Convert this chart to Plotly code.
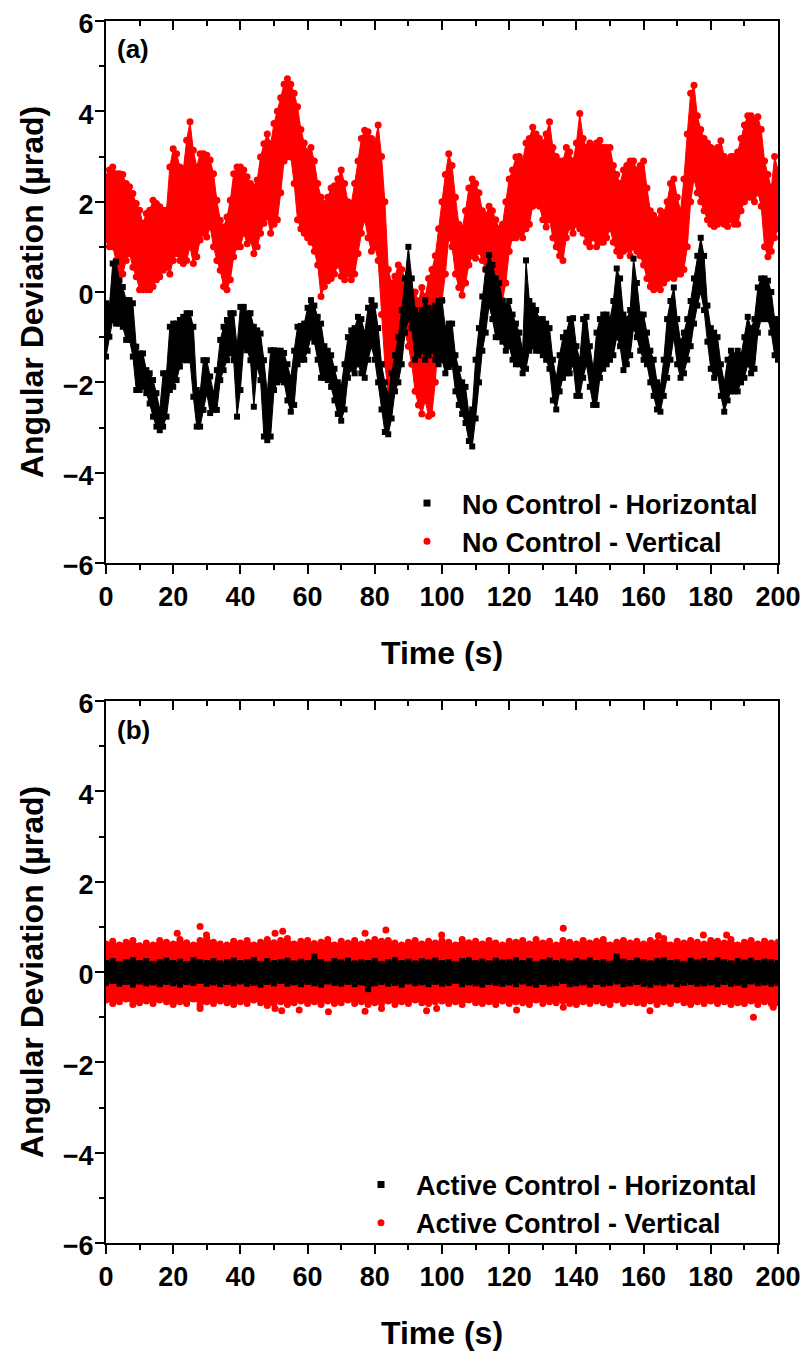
import plotly.graph_objects as go

# ---------------- data ----------------
# Panel (a): No Control, sampled every 1 s, band limits (upper / lower)
time_a = list(range(0, 201))

vert_a_hi = [2.55, 2.7, 2.77, 2.62, 2.62, 2.6, 2.4, 2.33, 2.18, 1.96,
             1.81, 1.52, 1.74, 1.81, 2.03, 1.96, 1.89, 1.81, 1.81, 2.77,
             3.17, 3.06, 2.77, 2.7, 3.36, 3.77, 3.14, 2.77, 3.06, 3.06,
             3.03, 2.92, 2.62, 2.03, 1.59, 1.44, 1.66, 2.03, 2.62, 2.77,
             2.77, 2.7, 2.55, 2.4, 2.33, 2.48, 2.99, 3.28, 3.5, 3.28,
             3.73, 4.0, 4.3, 4.6, 4.72, 4.6, 4.4, 4.1, 3.6, 3.3,
             3.1, 3.2, 2.9, 2.4, 2.1, 1.96, 2.1, 2.3, 2.35, 2.5,
             2.7, 2.4, 2.0, 1.96, 2.4, 2.9, 3.4, 3.58, 3.55, 3.4,
             3.3, 3.7, 3.0, 2.0, 0.5, 0.2, 0.35, 0.6, 0.5, 0.3,
             0.1, 0.0, 0.0, -0.2, 0.1, -0.1, 0.3, 0.5, 0.8, 1.4,
             2.0, 2.6, 3.06, 2.8, 2.1, 1.5, 1.4, 1.8, 2.3, 2.5,
             2.4, 2.2, 1.8, 1.7, 1.9, 1.8, 1.6, 1.4, 1.5, 2.0,
             2.5, 2.7, 2.99, 3.0, 2.9, 3.3, 3.4, 3.65, 3.5, 3.4,
             3.3, 3.5, 3.77, 3.2, 3.0, 2.9, 2.9, 3.2, 3.1, 2.9,
             3.3, 3.95, 3.4, 3.2, 3.3, 3.2, 3.3, 3.36, 3.2, 3.2,
             3.2, 2.8, 2.6, 2.4, 2.7, 2.8, 2.9, 2.9, 2.7, 2.8,
             2.9, 2.3, 1.8, 1.7, 1.6, 1.8, 1.75, 2.0, 2.4, 2.5,
             2.1, 1.8, 2.5, 3.5, 4.4, 4.58, 3.9, 3.6, 3.4, 3.3,
             3.2, 3.1, 3.2, 3.35, 3.0, 2.9, 3.0, 3.0, 3.1, 3.4,
             3.7, 3.9, 3.9, 3.8, 3.88, 3.6, 2.9, 2.6, 2.3, 3.0,
             2.7]
vert_a_lo = [1.15, 1.0, 1.0, 0.7, 0.4, 0.4, 0.7, 0.85, 0.55, 0.34,
             0.05, 0.05, 0.05, 0.05, 0.12, 0.27, 0.34, 0.48, 0.55, 0.4,
             0.7, 0.85, 0.7, 0.63, 0.7, 1.0, 0.63, 0.78, 1.15, 1.3,
             1.22, 1.44, 1.0, 0.7, 0.48, 0.12, 0.05, 0.27, 0.78, 1.0,
             1.0, 1.3, 1.07, 1.15, 0.85, 1.0, 1.3, 1.52, 1.66, 1.3,
             1.5, 1.6, 2.2, 2.9, 3.0, 2.99, 2.4, 1.6, 1.4, 1.3,
             1.2, 1.1, 0.9, 0.6, -0.1, 0.12, 0.25, 0.3, 0.4, 0.6,
             0.35, 0.27, 0.4, 0.27, 0.4, 0.85, 1.3, 1.6, 1.2, 0.9,
             1.0, 0.7, -0.5, -1.6, -2.2, -2.3, -2.0, -1.4, -1.0, -0.9,
             -1.2, -1.6, -2.2, -2.5, -2.7, -2.4, -2.75, -2.7, -2.0, -0.9,
             -0.2, 0.4, 1.2, 1.0, 0.4, 0.1, -0.07, 0.2, 0.6, 0.8,
             0.75, 0.9, 0.7, 0.5, 0.3, 0.1, 0.3, 0.1, -0.18, 0.2,
             0.9, 1.2, 1.2, 1.3, 1.2, 1.4, 1.5, 1.9, 2.0, 1.9,
             1.6, 1.44, 1.6, 1.2, 1.0, 0.8, 0.7, 1.2, 1.44, 1.3,
             1.5, 1.4, 1.3, 1.1, 1.0, 1.2, 1.0, 1.1, 1.1, 1.2,
             1.4, 1.1, 0.9, 0.8, 0.9, 0.95, 0.8, 1.0, 0.9, 0.8,
             0.6, 0.3, 0.12, 0.05, 0.1, 0.05, 0.2, 0.3, 0.35, 0.3,
             0.4, 0.4, 0.5, 1.0, 2.0, 2.5, 2.2, 2.0, 1.8, 1.6,
             1.5, 1.45, 1.5, 1.6, 1.5, 1.45, 1.6, 1.5, 1.5, 1.8,
             2.0, 2.1, 2.1, 2.0, 2.2, 1.9, 1.0, 0.78, 0.9, 1.2,
             1.4]
horiz_a_hi = [-0.25, -0.33, 0.63, 0.67, 0.26, 0.11, -0.18, -0.18, -0.25, -1.21,
              -1.36, -1.36, -1.73, -1.8, -1.95, -2.24, -2.61, -1.8, -1.8, -0.77,
              -0.7, -0.7, -0.62, -0.55, -0.47, -0.47, -0.77, -2.17, -2.24, -1.51,
              -1.51, -1.87, -2.24, -1.73, -1.06, -0.77, -0.62, -0.47, -0.47, -1.21,
              -0.33, -0.33, -0.47, -0.47, -0.77, -0.85, -0.92, -1.51, -2.24, -1.29,
              -1.29, -1.3, -1.3, -1.35, -1.6, -1.9, -1.3, -0.77, -0.75, -0.7,
              -0.35, -0.18, -0.3, -0.55, -0.7, -1.2, -1.3, -1.4, -1.7, -2.0,
              -2.1, -1.6, -1.0, -0.85, -0.8, -0.55, -0.6, -0.9, -0.35, -0.18,
              -0.3, -0.8, -1.6, -2.0, -2.3, -1.8, -1.4, -1.0, -0.4, 0.3,
              1.0, 0.3, -0.4, -0.5, -0.4, -0.18, -0.35, -0.4, -0.3, -0.2,
              -0.18, -0.8, -0.7, -0.7, -1.4, -1.7, -2.0, -2.1, -2.7, -2.6,
              -1.5, -0.8, -0.1, 0.5, 0.82, 0.6, 0.3, 0.2, -0.2, -0.3,
              -0.2, -0.5, -0.7, -0.9, -1.3, 0.7, -0.2, -0.3, -0.4, -0.6,
              -0.6, -0.7, -0.8, -1.5, -1.9, -1.4, -1.0, -0.9, -0.6, -0.58,
              -1.2, -1.5, -0.6, -0.55, -1.2, -1.7, -0.9, -0.6, -0.5, -0.5,
              -0.6, -0.2, 0.52, 0.3, -0.5, -0.6, -0.4, 0.74, 0.2, -0.5,
              -0.5, -0.9, -1.3, -1.5, -2.0, -2.1, -1.5, -0.6, -0.2, 0.1,
              -0.6, -1.1, -0.9, -0.6, -0.2, 0.3, 0.8, 1.2, 0.8, -0.3,
              -0.8, -0.9, -1.0, -1.6, -2.0, -1.5, -1.3, -1.4, -1.3, -1.4,
              -1.0, -0.55, -0.8, -0.6, 0.1, 0.3, 0.3, 0.25, 0.0, -0.6,
              -0.6]
horiz_a_lo = [-1.43, -0.99, -0.62, -0.7, -0.7, -0.77, -1.06, -1.06, -1.43, -2.17,
              -2.17, -2.1, -2.24, -2.47, -2.76, -2.98, -3.06, -2.98, -2.76, -2.17,
              -2.1, -1.95, -1.65, -1.51, -1.51, -1.51, -2.32, -2.98, -2.98, -2.61,
              -2.24, -2.68, -2.61, -2.61, -1.95, -1.73, -1.51, -1.36, -1.51, -2.76,
              -2.17, -1.21, -1.29, -1.51, -2.54, -1.65, -1.95, -3.2, -3.28, -3.2,
              -2.17, -2.0, -1.95, -2.0, -2.4, -2.65, -2.5, -1.6, -1.5, -1.5,
              -1.3, -1.0, -1.1, -1.5, -1.9, -1.9, -1.95, -2.1, -2.4, -2.7,
              -2.85, -2.6, -1.9, -1.7, -1.8, -1.6, -1.8, -1.9, -1.5, -1.2,
              -1.5, -2.0, -2.6, -3.1, -3.15, -2.8, -2.2, -2.0, -1.6, -0.9,
              -0.6, -0.8, -1.5, -1.4, -1.3, -1.5, -1.4, -1.3, -1.5, -1.6,
              -1.5, -1.8, -1.66, -1.6, -2.2, -2.5, -2.7, -2.9, -3.3, -3.42,
              -2.8, -2.0, -1.3, -0.9, -0.3, -0.6, -1.0, -1.0, -1.1, -1.3,
              -1.2, -1.5, -1.6, -1.6, -1.8, -1.7, -1.3, -1.2, -1.3, -1.3,
              -1.4, -1.5, -1.7, -2.4, -2.6, -2.2, -1.9, -1.8, -1.8, -1.6,
              -2.3, -2.3, -1.9, -1.6, -2.1, -2.5, -2.5, -1.9, -1.7, -1.6,
              -1.5, -1.4, -1.0, -1.2, -1.73, -1.6, -1.4, -0.8, -1.0, -1.3,
              -1.5, -1.6, -2.0, -2.3, -2.6, -2.65, -2.3, -1.9, -1.5, -1.0,
              -1.6, -1.9, -1.8, -1.5, -1.2, -0.7, -0.3, 0.0, -0.4, -1.1,
              -1.7, -1.9, -1.8, -2.3, -2.65, -2.4, -2.2, -2.2, -2.2, -2.0,
              -1.9, -1.6, -1.8, -1.7, -0.9, -0.6, -0.6, -0.6, -0.9, -1.4,
              -1.5]

# Panel (b): Active Control, sampled every 2 s, band limits (upper / lower)
time_b = list(range(0, 201, 2))
vert_b_hi = [0.62, 0.68, 0.6, 0.66, 0.7, 0.58, 0.64, 0.6, 0.7, 0.66,
             0.62, 0.72, 0.65, 0.6, 0.7, 0.75, 0.66, 0.62, 0.6, 0.68,
             0.64, 0.7, 0.6, 0.66, 0.72, 0.65, 0.7, 0.74, 0.62, 0.68,
             0.7, 0.63, 0.66, 0.72, 0.6, 0.68, 0.64, 0.7, 0.62, 0.66,
             0.72, 0.68, 0.7, 0.64, 0.6, 0.66, 0.7, 0.62, 0.68, 0.64,
             0.7, 0.66, 0.6, 0.72, 0.65, 0.68, 0.62, 0.7, 0.64, 0.6,
             0.68, 0.66, 0.7, 0.62, 0.72, 0.64, 0.68, 0.6, 0.7, 0.66,
             0.62, 0.7, 0.64, 0.68, 0.72, 0.6, 0.66, 0.7, 0.64, 0.68,
             0.62, 0.7, 0.66, 0.74, 0.6, 0.68, 0.64, 0.7, 0.66, 0.62,
             0.7, 0.68, 0.64, 0.72, 0.6, 0.66, 0.7, 0.62, 0.68, 0.64,
             0.66]
vert_b_lo = [-0.62, -0.7, -0.66, -0.6, -0.72, -0.68, -0.64, -0.7, -0.62, -0.66,
             -0.72, -0.66, -0.7, -0.6, -0.74, -0.66, -0.7, -0.64, -0.68, -0.72,
             -0.66, -0.7, -0.62, -0.68, -0.74, -0.7, -0.66, -0.72, -0.68, -0.64,
             -0.7, -0.66, -0.72, -0.64, -0.7, -0.68, -0.62, -0.7, -0.66, -0.72,
             -0.68, -0.7, -0.64, -0.72, -0.66, -0.7, -0.62, -0.68, -0.7, -0.66,
             -0.64, -0.7, -0.66, -0.72, -0.62, -0.68, -0.7, -0.66, -0.72, -0.64,
             -0.7, -0.66, -0.68, -0.72, -0.62, -0.7, -0.66, -0.68, -0.64, -0.7,
             -0.72, -0.66, -0.7, -0.64, -0.68, -0.72, -0.62, -0.7, -0.66, -0.68,
             -0.7, -0.64, -0.72, -0.66, -0.7, -0.62, -0.68, -0.72, -0.66, -0.7,
             -0.64, -0.7, -0.66, -0.72, -0.68, -0.7, -0.64, -0.72, -0.66, -0.7,
             -0.68]
horiz_b_hi = [0.2, 0.24, 0.18, 0.22, 0.26, 0.2, 0.24, 0.18, 0.22, 0.25,
              0.2, 0.23, 0.18, 0.26, 0.22, 0.2, 0.24, 0.19, 0.22, 0.25,
              0.2, 0.22, 0.26, 0.18, 0.24, 0.2, 0.22, 0.25, 0.19, 0.23,
              0.2, 0.34, 0.22, 0.18, 0.24, 0.21, 0.25, 0.19, 0.22, 0.2,
              0.24, 0.18, 0.22, 0.26, 0.2, 0.23, 0.19, 0.24, 0.21, 0.25,
              0.2, 0.22, 0.18, 0.24, 0.26, 0.2, 0.23, 0.19, 0.25, 0.21,
              0.22, 0.26, 0.2, 0.24, 0.18, 0.22, 0.25, 0.2, 0.23, 0.19,
              0.24, 0.21, 0.26, 0.2, 0.22, 0.18, 0.34, 0.23, 0.2, 0.25,
              0.22, 0.19, 0.24, 0.26, 0.2, 0.22, 0.18, 0.25, 0.21, 0.24,
              0.2, 0.26, 0.22, 0.19, 0.24, 0.21, 0.25, 0.2, 0.23, 0.22,
              0.2]
horiz_b_lo = [-0.24, -0.2, -0.26, -0.22, -0.28, -0.21, -0.25, -0.23, -0.27, -0.22,
              -0.25, -0.28, -0.22, -0.24, -0.2, -0.26, -0.23, -0.27, -0.22, -0.25,
              -0.21, -0.26, -0.24, -0.28, -0.22, -0.25, -0.2, -0.26, -0.23, -0.27,
              -0.22, -0.25, -0.28, -0.21, -0.24, -0.26, -0.22, -0.27, -0.23, -0.38,
              -0.25, -0.22, -0.26, -0.24, -0.28, -0.21, -0.25, -0.23, -0.27, -0.22,
              -0.26, -0.24, -0.2, -0.27, -0.23, -0.25, -0.28, -0.22, -0.24, -0.26,
              -0.23, -0.27, -0.21, -0.25, -0.28, -0.22, -0.26, -0.24, -0.2, -0.27,
              -0.25, -0.23, -0.28, -0.22, -0.26, -0.24, -0.21, -0.27, -0.25, -0.22,
              -0.26, -0.28, -0.23, -0.25, -0.21, -0.27, -0.24, -0.22, -0.26, -0.25,
              -0.23, -0.27, -0.22, -0.26, -0.24, -0.28, -0.21, -0.25, -0.23, -0.26,
              -0.24]
# isolated red points outside the band in panel (b)
vert_b_out_t = [21.2, 28.0, 29.9, 50.3, 52.6, 77.1, 83.3, 99.9, 136.1, 164.4, 177.8, 184.7,
                28.0, 50.3, 52.3, 57.5, 66.2, 77.1, 82.0, 95.4, 98.4, 122.2, 136.1, 161.9, 192.7, 198.6]
vert_b_out_v = [0.86, 1.01, 0.82, 0.86, 0.9, 0.86, 0.93, 0.82, 0.97, 0.8, 0.82, 0.82,
                -0.81, -0.81, -0.86, -0.84, -0.88, -0.87, -0.81, -0.86, -0.81, -0.84, -0.78, -0.86, -1.0, -0.78]

legend_a = ["No Control - Horizontal", "No Control - Vertical"]
legend_b = ["Active Control - Horizontal", "Active Control - Vertical"]
panel_labels = ["(a)", "(b)"]
x_ticks = list(range(0, 201, 20))
y_ticks = list(range(-6, 7, 2))

RED = "#ff0000"
BLACK = "#000000"
FONT = "Liberation Sans, Arial, sans-serif"

fig = go.Figure()


def band(t, lo, hi, color, symbol, size, xa, ya):
    common = dict(mode="lines+markers", xaxis=xa, yaxis=ya, line=dict(color=color, width=1),
                  marker=dict(color=color, size=size, symbol=symbol, line=dict(width=0)),
                  showlegend=False, hoverinfo="skip")
    fig.add_trace(go.Scatter(x=t, y=lo, **common))
    fig.add_trace(go.Scatter(x=t, y=hi, fill="tonexty", fillcolor=color, **common))


# panel (a)
band(time_a, vert_a_lo, vert_a_hi, RED, "circle", 7, "x", "y")
band(time_a, horiz_a_lo, horiz_a_hi, BLACK, "square", 6, "x", "y")
# panel (b)
band(time_b, vert_b_lo, vert_b_hi, RED, "circle", 7, "x2", "y2")
fig.add_trace(go.Scatter(x=vert_b_out_t, y=vert_b_out_v, mode="markers", xaxis="x2", yaxis="y2",
                         marker=dict(color=RED, size=7, line=dict(width=0)),
                         showlegend=False, hoverinfo="skip"))
band(time_b, horiz_b_lo, horiz_b_hi, BLACK, "square", 6, "x2", "y2")

# legend entries
for name, col, sym, lg, xa, ya in [
    (legend_a[0], BLACK, "square", "legend", "x", "y"),
    (legend_a[1], RED, "circle", "legend", "x", "y"),
    (legend_b[0], BLACK, "square", "legend2", "x2", "y2"),
    (legend_b[1], RED, "circle", "legend2", "x2", "y2"),
]:
    fig.add_trace(go.Scatter(x=[None], y=[None], mode="markers", name=name, legend=lg,
                             xaxis=xa, yaxis=ya,
                             marker=dict(color=col, size=7, symbol=sym, line=dict(width=0))))

# dummy traces for the top tick axes
fig.add_trace(go.Scatter(x=[None], y=[None], xaxis="x3", yaxis="y", showlegend=False))
fig.add_trace(go.Scatter(x=[None], y=[None], xaxis="x4", yaxis="y2", showlegend=False))

tickfont = dict(family=FONT, size=27, color="black", weight="bold")
titlefont = dict(family=FONT, size=32, color="black", weight="bold")


def xax(anchor):
    return dict(range=[0, 200], tickvals=x_ticks, ticks="outside", ticklen=9, tickwidth=2,
                tickcolor="black", minor=dict(ticks="outside", ticklen=5, tickwidth=2, dtick=10,
                                              tickcolor="black", showgrid=False),
                showline=True, linewidth=2, linecolor="black", mirror=True, automargin=False,
                ticklabeloverflow="allow",
                showgrid=False, zeroline=False, tickfont=tickfont, anchor=anchor,
                title=dict(text="Time (s)", font=titlefont, standoff=30))


def topax(over, anchor):
    return dict(range=[0, 200], overlaying=over, side="top", anchor=anchor, automargin=False,
                tickvals=x_ticks, ticks="inside", ticklen=9, tickwidth=2, tickcolor="black",
                minor=dict(ticks="inside", ticklen=5, tickwidth=2, dtick=10, tickcolor="black",
                           showgrid=False),
                showticklabels=False, showline=False, showgrid=False, zeroline=False)


def yax(domain, anchor):
    return dict(range=[-6, 6], domain=domain, tickvals=y_ticks, ticks="outside", ticklen=9,
                tickwidth=2, tickcolor="black", ticklabelstandoff=-4, ticklabeloverflow="allow",
                ticklabelshift=3,
                minor=dict(ticks="outside", ticklen=5, tickwidth=2, dtick=1, tickcolor="black",
                           showgrid=False),
                showline=True, linewidth=2, linecolor="black", mirror=True, automargin=False,
                showgrid=False, zeroline=False, tickfont=tickfont, anchor=anchor,
                title=dict(text="Angular Deviation (µrad)", font=titlefont, standoff=10))


# the page adds an 8 px body margin, so figure pixel = page pixel - 8
W = 800.0
H = 1344.0
L = 98.0
PW = 672.0
legfont = dict(family=FONT, size=27, color="black", weight="bold")
fig.update_layout(
    width=800, height=1344,
    margin=dict(l=98, r=30, t=0, b=0, autoexpand=False),
    paper_bgcolor="white", plot_bgcolor="white",
    xaxis=xax("y"), yaxis=yax([1 - 555 / H, 1 - 13 / H], "x"),
    xaxis2=xax("y2"), yaxis2=yax([1 - 1235 / H, 1 - 693 / H], "x2"),
    xaxis3=topax("x", "y"), xaxis4=topax("x2", "y2"),
    legend=dict(x=(384 - L) / PW, y=1 - 514.5 / H, xanchor="left", yanchor="middle",
                font=legfont, bgcolor="rgba(0,0,0,0)", itemwidth=60, tracegroupgap=0,
                traceorder="normal"),
    legend2=dict(x=(338 - L) / PW, y=1 - 1196 / H, xanchor="left", yanchor="middle",
                 font=legfont, bgcolor="rgba(0,0,0,0)", itemwidth=60, tracegroupgap=0,
                 traceorder="normal"),
    showlegend=True,
    annotations=[
        dict(text=panel_labels[0], xref="x domain", yref="y domain", x=9 / PW, y=(542 - 28) / 542,
             xanchor="left", yanchor="middle", showarrow=False,
             font=dict(family=FONT, size=26, color="black", weight="bold")),
        dict(text=panel_labels[1], xref="x2 domain", yref="y2 domain", x=9 / PW, y=(542 - 29) / 542,
             xanchor="left", yanchor="middle", showarrow=False,
             font=dict(family=FONT, size=26, color="black", weight="bold")),
    ],
)

fig.write_html("out.html")
